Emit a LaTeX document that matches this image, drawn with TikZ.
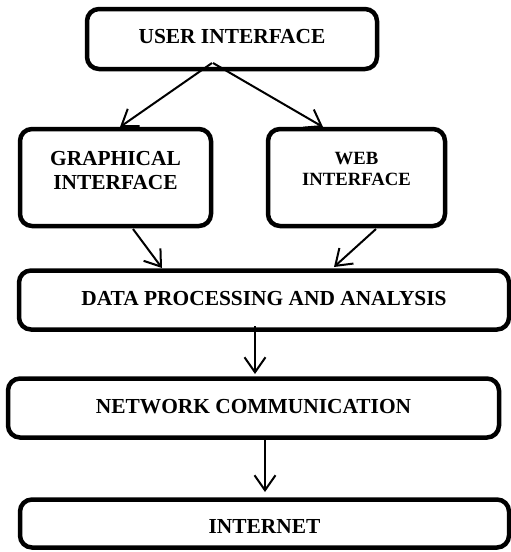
\documentclass[tikz,border=0pt]{standalone}
\usepackage{fontspec}
\setmainfont{Liberation Serif}
\usetikzlibrary{arrows.meta}
\begin{document}
\begin{tikzpicture}[x=1pt,y=-1pt,
  box/.style={draw=black, line width=4.5pt, rounded corners=12pt, outer sep=0pt, inner sep=0pt,
    align=center, font=\fontsize{21.4pt}{24pt}\selectfont\bfseries},
  conn/.style={line width=2pt, -{Straight Barb[length=15pt,width=21pt,line width=2pt]}}
]
\useasboundingbox (0,0) rectangle (511,552);
\node[box, minimum width=290pt, minimum height=60pt, text depth=6pt] (ui) at (232,39) {USER INTERFACE};
\node[box, minimum width=191pt, minimum height=97pt, text depth=14pt] (gi) at (115.5,177.5) {GRAPHICAL\\INTERFACE};
\node[box, minimum width=177pt, minimum height=97pt, text depth=18pt, font=\fontsize{18.7pt}{21pt}\selectfont\bfseries] (wi) at (356.5,177.5) {WEB\\INTERFACE};
\node[box, minimum width=490pt, minimum height=59pt, text depth=4pt] (dp) at (264,300) {DATA PROCESSING AND ANALYSIS};
\node[box, minimum width=491pt, minimum height=59pt, text depth=4pt] (nc) at (253.5,408) {NETWORK COMMUNICATION};
\node[box, minimum width=489pt, minimum height=48pt, text height=19pt, text depth=0pt] (in) at (264.5,523.5) {INTERNET};

\draw[conn] ([xshift=-20pt,yshift=6pt]ui.south) -- ([xshift=4.5pt,yshift=2pt]gi.north);
\draw[conn] ([xshift=-19pt,yshift=6pt]ui.south) -- ([xshift=-33.5pt,yshift=2pt]wi.north);
\draw[conn] ([xshift=17.5pt,yshift=-3pt]gi.south) -- ([xshift=-102pt,yshift=2.5pt]dp.north);
\draw[conn] ([xshift=19.5pt,yshift=-3pt]wi.south) -- ([xshift=70pt,yshift=3.5pt]dp.north);
\draw[conn] ([xshift=-9pt,yshift=3.5pt]dp.south) -- ([xshift=1.5pt,yshift=4.5pt]nc.north);
\draw[conn] ([xshift=11.5pt,yshift=-2.5pt]nc.south) -- ([xshift=0.5pt,yshift=7.5pt]in.north);
\end{tikzpicture}
\end{document}
